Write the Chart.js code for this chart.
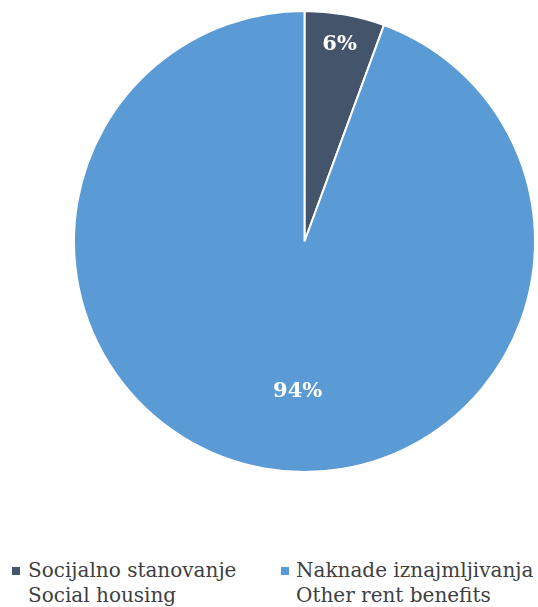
<!DOCTYPE html>
<html>
<head>
<meta charset="utf-8">
<script src="https://cdn.jsdelivr.net/npm/chart.js@4.4.0/dist/chart.umd.min.js"></script>
<style>
  html, body { margin: 0; padding: 0; background: #ffffff; }
  #wrap { position: relative; width: 538px; height: 607px; overflow: hidden; }
  #c { position: absolute; left: 0; top: 0; }
  .leg { position: absolute; font-family: "DejaVu Serif", serif; font-size: 20px; line-height: 25px; color: #404040; white-space: nowrap; }
  .sw { position: absolute; width: 8px; height: 8px; }
</style>
</head>
<body>
<div id="wrap">
  <canvas id="c" width="538" height="480"></canvas>
  <div class="sw" id="sw0" style="left:12px; top:567px;"></div>
  <div class="leg" id="lg0" style="left:28px; top:558px;"></div>
  <div class="sw" id="sw1" style="left:281px; top:567px;"></div>
  <div class="leg" id="lg1" style="left:296px; top:558px;"></div>
</div>
<script>
const categories = [["Socijalno stanovanje", "Social housing"], ["Naknade iznajmljivanja", "Other rent benefits"]];
const values = [5.6, 94.4];
const labelsShown = ["6%", "94%"];
const colors = ["#44546A", "#5B9BD5"];

categories.forEach((c, i) => {
  document.getElementById('lg' + i).innerHTML = c.join('<br>');
  document.getElementById('sw' + i).style.background = colors[i];
});

const labelRadius = [0.87, 0.65];
const labelAngleShift = [0, -0.13];
const labelPlugin = {
  id: 'pieLabels',
  afterDatasetsDraw(chart) {
    const ctx = chart.ctx;
    const meta = chart.getDatasetMeta(0);
    ctx.save();
    ctx.fillStyle = '#ffffff';
    ctx.font = 'bold 21px "DejaVu Serif", serif';
    ctx.textAlign = 'center';
    ctx.textBaseline = 'middle';
    meta.data.forEach((arc, i) => {
      const p = arc.getProps(['x', 'y', 'startAngle', 'endAngle', 'outerRadius'], true);
      const mid = (p.startAngle + p.endAngle) / 2 + labelAngleShift[i];
      const r = p.outerRadius * labelRadius[i];
      ctx.fillText(labelsShown[i], p.x + Math.cos(mid) * r, p.y + Math.sin(mid) * r);
    });
    ctx.restore();
  }
};

new Chart(document.getElementById('c'), {
  type: 'pie',
  data: {
    labels: categories.map(c => c.join(' ')),
    datasets: [{ data: values, backgroundColor: colors, borderColor: '#ffffff', borderWidth: 2 }]
  },
  options: {
    responsive: false,
    animation: false,
    layout: { padding: { left: 73, right: 2, top: 10, bottom: 7 } },
    plugins: { legend: { display: false }, tooltip: { enabled: false } }
  },
  plugins: [labelPlugin]
});
</script>
</body>
</html>
